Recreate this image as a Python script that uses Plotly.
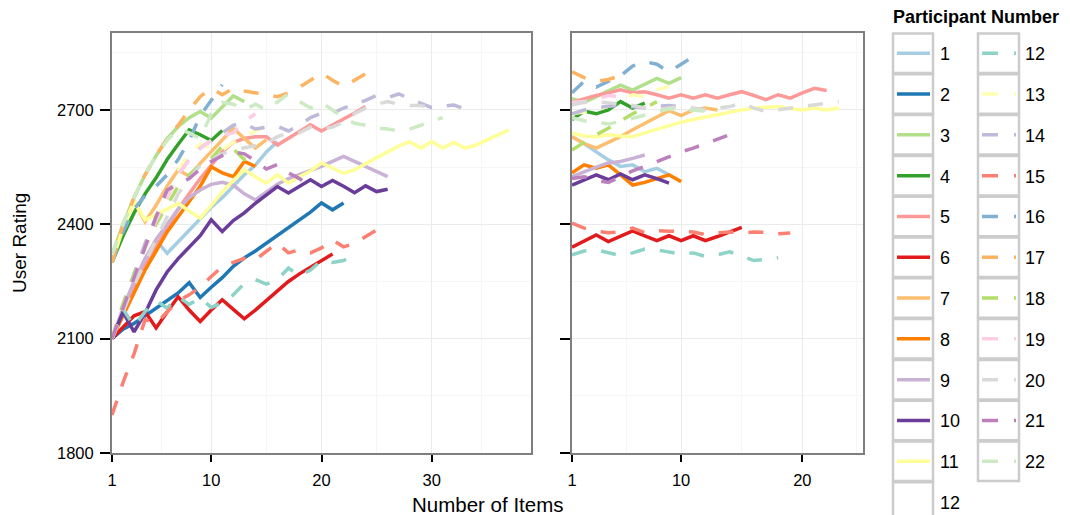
import plotly.graph_objects as go

# ---------------- data ----------------
participants = list(range(1, 23))
tick_labels_y = [1800, 2100, 2400, 2700]
tick_labels_x_left = [1, 10, 20, 30]
tick_labels_x_right = [1, 10, 20]

colors = ["#A6CEE3", "#1F78B4", "#B2DF8A", "#33A02C", "#FB9A99", "#E31A1C",
          "#FDBF6F", "#FF7F00", "#CAB2D6", "#6A3D9A", "#FFFF99",
          "#8DD3C7", "#FFFFB3", "#BEBADA", "#FB8072", "#80B1D3", "#FDB462",
          "#B3DE69", "#FCCDE5", "#D9D9D9", "#BC80BD", "#CCEBC5"]

p1_left = [2100, 2170, 2240, 2300, 2359, 2324, 2355, 2385, 2415, 2445, 2470, 2500, 2530, 2555, 2590, 2617]
p1_right = [2630, 2612, 2590, 2569, 2552, 2556, 2538, 2547, 2530]
p2_left = [2100, 2125, 2140, 2160, 2180, 2200, 2220, 2247, 2208, 2235, 2260, 2290, 2312, 2330, 2350, 2370, 2390, 2410, 2432, 2456, 2438, 2456]
p2_right = []
p3_left = [2320, 2400, 2470, 2530, 2580, 2625, 2656, 2680, 2696, 2679, 2708, 2737, 2722]
p3_right = [2730, 2720, 2735, 2750, 2765, 2752, 2768, 2783, 2770, 2785]
p4_left = [2300, 2370, 2430, 2480, 2522, 2570, 2610, 2648, 2635, 2620, 2646]
p4_right = [2675, 2697, 2690, 2700, 2722, 2705, 2718]
p5_left = [2100, 2170, 2230, 2290, 2340, 2390, 2440, 2480, 2520, 2555, 2590, 2615, 2625, 2630, 2630, 2608, 2625, 2643, 2661, 2645, 2660, 2675, 2692, 2709]
p5_right = [2720, 2730, 2738, 2745, 2753, 2745, 2748, 2740, 2731, 2740, 2731, 2740, 2731, 2740, 2748, 2738, 2727, 2740, 2731, 2745, 2757, 2751]
p6_left = [2100, 2130, 2160, 2171, 2128, 2170, 2210, 2175, 2145, 2175, 2202, 2177, 2152, 2175, 2200, 2225, 2250, 2270, 2288, 2305, 2322]
p6_right = [2340, 2357, 2372, 2355, 2370, 2383, 2370, 2357, 2370, 2357, 2370, 2357, 2368, 2380, 2392]
p7_left = [2300, 2400, 2460, 2407, 2450, 2500, 2543, 2526, 2560, 2591, 2620, 2652, 2625, 2600, 2622]
p7_right = [2630, 2612, 2600, 2615, 2630, 2648, 2665, 2682, 2698, 2685, 2700, 2705, 2700]
p8_left = [2100, 2160, 2225, 2280, 2330, 2380, 2420, 2460, 2500, 2551, 2535, 2525, 2565, 2552]
p8_right = [2535, 2556, 2547, 2556, 2530, 2503, 2510, 2520, 2530, 2512]
p9_left = [2100, 2180, 2250, 2310, 2360, 2400, 2440, 2470, 2490, 2505, 2510, 2503, 2480, 2464, 2485, 2505, 2520, 2530, 2540, 2552, 2565, 2578, 2565, 2552, 2538, 2525]
p9_right = [2525, 2538, 2550, 2561, 2565, 2573, 2582]
p10_left = [2100, 2170, 2118, 2167, 2228, 2275, 2310, 2340, 2370, 2412, 2381, 2410, 2430, 2455, 2478, 2499, 2482, 2500, 2517, 2499, 2515, 2500, 2483, 2501, 2486, 2492]
p10_right = [2503, 2517, 2530, 2517, 2532, 2517, 2530, 2520, 2508]
p11_left = [2300, 2390, 2460, 2412, 2425, 2440, 2455, 2435, 2416, 2450, 2485, 2515, 2543, 2525, 2508, 2530, 2508, 2525, 2540, 2561, 2548, 2534, 2543, 2560, 2575, 2590, 2605, 2617, 2600, 2617, 2600, 2615, 2600, 2608, 2622, 2635, 2648]
p11_right = [2640, 2632, 2630, 2635, 2632, 2630, 2640, 2650, 2660, 2668, 2675, 2682, 2688, 2694, 2700, 2705, 2707, 2709, 2703, 2700, 2705, 2700, 2705]
p12_left = [2100, 2178, 2132, 2171, 2200, 2180, 2210, 2190, 2207, 2182, 2194, 2215, 2245, 2255, 2243, 2255, 2285, 2265, 2280, 2305, 2300, 2305, 2320]
p12_right = [2320, 2330, 2333, 2325, 2318, 2325, 2335, 2333, 2328, 2322, 2325, 2316, 2320, 2328, 2317, 2305, 2308, 2312]
p13_left = [2100, 2180, 2260, 2340, 2410, 2480, 2540, 2590, 2610, 2600, 2595, 2615, 2630, 2645, 2657]
p13_right = [2690, 2695, 2700, 2710, 2725, 2740, 2735, 2753, 2762]
p14_left = [2100, 2190, 2270, 2350, 2420, 2480, 2530, 2570, 2600, 2620, 2640, 2660, 2665, 2650, 2655, 2657, 2645, 2660, 2680, 2692, 2692, 2705, 2715, 2725, 2738, 2732, 2742, 2730, 2718, 2706, 2710, 2713, 2703]
p14_right = [2690, 2700, 2705, 2710, 2712, 2708, 2705, 2710, 2712, 2708]
p15_left = [1900, 1985, 2060, 2150, 2140, 2170, 2200, 2215, 2235, 2263, 2289, 2300, 2311, 2307, 2328, 2351, 2325, 2333, 2325, 2338, 2359, 2341, 2350, 2368, 2385]
p15_right = [2403, 2390, 2382, 2378, 2380, 2390, 2378, 2383, 2382, 2380, 2380, 2373, 2378, 2380, 2377, 2380, 2379, 2375, 2377]
p16_left = [2300, 2380, 2440, 2475, 2500, 2530, 2570, 2620, 2685, 2725, 2766]
p16_right = [2745, 2775, 2760, 2775, 2790, 2815, 2827, 2820, 2800, 2820, 2840]
p17_left = [2300, 2400, 2470, 2530, 2580, 2625, 2660, 2700, 2735, 2757, 2740, 2757, 2750, 2745, 2738, 2735, 2745, 2760, 2778, 2797, 2778, 2762, 2778, 2795, 2807]
p17_right = [2800, 2785, 2775, 2780, 2790]
p18_left = [2100, 2190, 2270, 2340, 2400, 2450, 2500, 2530, 2555, 2572, 2605, 2598, 2570, 2578]
p18_right = [2595, 2615, 2635, 2652, 2670, 2690, 2705, 2722]
p19_left = [2100, 2180, 2260, 2340, 2410, 2470, 2530, 2570, 2600, 2620, 2633, 2640, 2670, 2690]
p19_right = [2720, 2722, 2728, 2738, 2735]
p20_left = [2100, 2170, 2240, 2300, 2360, 2420, 2480, 2520, 2555, 2570, 2585, 2595, 2600, 2605, 2612, 2630, 2640, 2640, 2655, 2650, 2655, 2668, 2690, 2705, 2715, 2722, 2715, 2712, 2712, 2705]
p20_right = [2713, 2720, 2722, 2718, 2715, 2712, 2705, 2700, 2705, 2709, 2705, 2700, 2705, 2709, 2718, 2705, 2696, 2700, 2705, 2709, 2712, 2718, 2722]
p21_left = [2100, 2180, 2260, 2340, 2420, 2490, 2505, 2520, 2545, 2565, 2580, 2590, 2585, 2567, 2545, 2557, 2535, 2520, 2499]
p21_right = [2520, 2525, 2515, 2510, 2525, 2540, 2552, 2565, 2578, 2590, 2600, 2612, 2625, 2635]
p22_left = [2320, 2400, 2470, 2530, 2580, 2620, 2650, 2640, 2625, 2690, 2720, 2715, 2700, 2715, 2700, 2720, 2742, 2722, 2705, 2720, 2700, 2680, 2665, 2660, 2652, 2650, 2645, 2650, 2660, 2670, 2680]
p22_right = [2680, 2672, 2668, 2663, 2670, 2679, 2687, 2695, 2703, 2698, 2700, 2696, 2695]

left_series = [p1_left, p2_left, p3_left, p4_left, p5_left, p6_left, p7_left, p8_left,
               p9_left, p10_left, p11_left, p12_left, p13_left, p14_left, p15_left,
               p16_left, p17_left, p18_left, p19_left, p20_left, p21_left, p22_left]
right_series = [p1_right, p2_right, p3_right, p4_right, p5_right, p6_right, p7_right, p8_right,
                p9_right, p10_right, p11_right, p12_right, p13_right, p14_right, p15_right,
                p16_right, p17_right, p18_right, p19_right, p20_right, p21_right, p22_right]

# ---------------- style ----------------
OFF = 8                      # page body margin in the browser
W, H = 1070 - 2 * OFF, 515 - OFF
FONT = "Liberation Sans, Arial, Helvetica, sans-serif"
LW = 3.5
DASH = "15px,15px"


def px(x):
    return (x - OFF) / W


def py(y):
    return 1 - (y - OFF) / H


fig = go.Figure()
for i, p in enumerate(participants):
    dash = "solid" if p <= 11 else DASH
    for series, xa, ya in ((left_series[i], "x", "y"), (right_series[i], "x2", "y2")):
        if not series:
            continue
        fig.add_trace(go.Scatter(
            x=list(range(1, len(series) + 1)), y=series, mode="lines",
            xaxis=xa, yaxis=ya, name=str(p), showlegend=False,
            line=dict(color=colors[i], width=LW, dash=dash),
            hoverinfo="skip"))

axis_common = dict(
    showline=True, linecolor="#7f7f7f", linewidth=2, mirror=True,
    showgrid=True, gridcolor="#ebebeb", gridwidth=1, zeroline=False,
    ticks="outside", tickcolor="black", tickwidth=2, automargin=False,
    tickfont=dict(family=FONT, size=16.5, color="black"),
)
minor_y = dict(tickvals=[1950, 2250, 2550, 2850], showgrid=True, gridcolor="#f6f6f6", ticks="")

fig.update_layout(
    template="none",
    width=W, height=H, margin=dict(l=0, r=0, t=0, b=0, pad=0, autoexpand=False),
    paper_bgcolor="white", plot_bgcolor="white", showlegend=False,
    font=dict(family=FONT, color="black"),
    xaxis=dict(domain=[px(112), px(531)], range=[1, 39], tickvals=tick_labels_x_left,
               ticklen=7, anchor="y", ticklabelstandoff=4,
               minor=dict(tickvals=[5.5, 15, 25, 34.5], showgrid=True, gridcolor="#f6f6f6",
                          ticks=""), **axis_common),
    xaxis2=dict(domain=[px(572), px(863)], range=[1, 25], tickvals=tick_labels_x_right,
                ticklen=7, anchor="y2", ticklabelstandoff=4,
                minor=dict(tickvals=[5.5, 15, 24.5], showgrid=True, gridcolor="#f6f6f6",
                           ticks=""), **axis_common),
    yaxis=dict(domain=[py(453), py(33)], range=[1800, 2902], tickvals=tick_labels_y,
               ticklen=10, anchor="x", ticklabelstandoff=3, minor=minor_y, **axis_common),
    yaxis2=dict(domain=[py(453), py(33)], range=[1800, 2902], tickvals=tick_labels_y,
                ticklen=10, anchor="x2", showticklabels=False, matches="y",
                minor=minor_y, **axis_common),
)

annotations = [
    dict(text="Number of Items", x=px(487.5), y=py(504), xref="paper", yref="paper",
         showarrow=False, xanchor="center", yanchor="middle",
         font=dict(family=FONT, size=20.5, color="black")),
    dict(text="User Rating", x=px(20), y=py(243), xref="paper", yref="paper",
         showarrow=False, xanchor="center", yanchor="middle", textangle=-90,
         font=dict(family=FONT, size=19, color="black")),
    dict(text="<b>Participant Number</b>", x=px(891), y=py(17), xref="paper", yref="paper",
         showarrow=False, xanchor="left", yanchor="middle",
         font=dict(family=FONT, size=18, color="black")),
]

# ---------------- legend (two columns of keyed boxes) ----------------
shapes = []
ROW0, STEP, BOXH = 33.5, 40.8, 39.5
col1 = participants[:11] + [None]
col2 = participants[11:]
cols = [(893, 933, 938, col1, "solid"), (978, 1019, 1023, col2, "16px,16px")]
for (bx0, bx1, lx, entries, dash) in cols:
    for r, p in enumerate(entries):
        top = ROW0 + r * STEP
        shapes.append(dict(type="rect", xref="paper", yref="paper",
                           x0=px(bx0), x1=px(bx1), y0=py(top), y1=py(top + BOXH),
                           line=dict(color="#cccccc", width=2.5), fillcolor="white", layer="above"))
        cy = top + BOXH / 2
        label = "12" if p is None else str(p)
        if p is not None:
            shapes.append(dict(type="line", xref="paper", yref="paper",
                               x0=px(bx0 + 4), x1=px(bx1 - 3), y0=py(cy), y1=py(cy),
                               line=dict(color=colors[p - 1], width=LW, dash=dash), layer="above"))
        annotations.append(dict(text=label, x=px(lx), y=py(cy + 1), xref="paper", yref="paper",
                                showarrow=False, xanchor="left", yanchor="middle",
                                font=dict(family=FONT, size=18, color="black")))

fig.update_layout(shapes=shapes, annotations=annotations)
fig.write_html("out.html")
